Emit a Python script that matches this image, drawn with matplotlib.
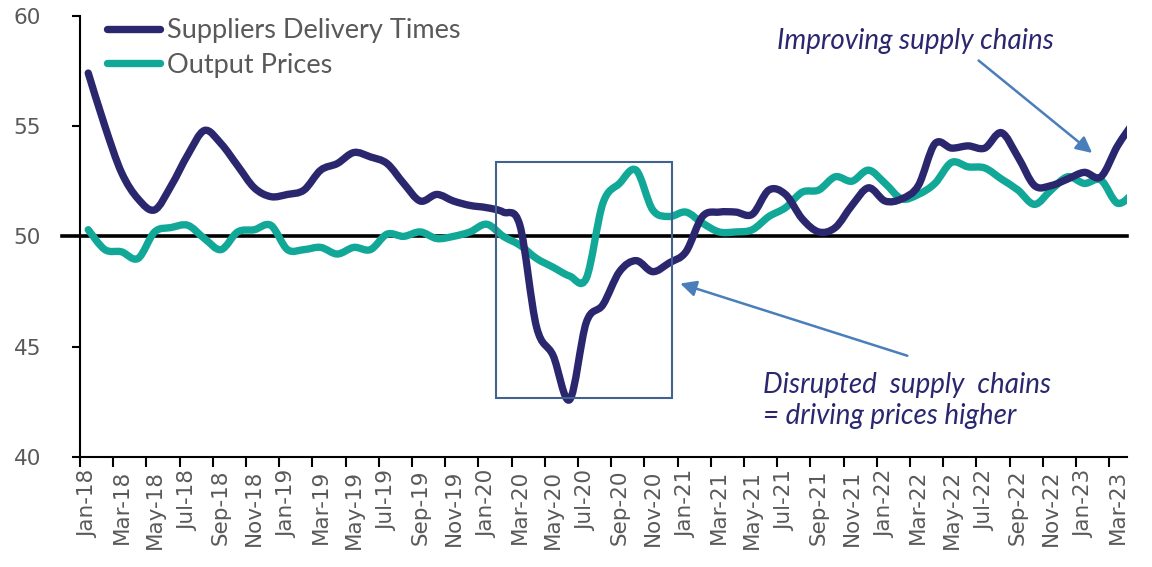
import matplotlib
matplotlib.use("Agg")
import matplotlib.pyplot as plt
from matplotlib.patches import Rectangle, PathPatch
from matplotlib.path import Path
from matplotlib.lines import Line2D

plt.rcParams['font.family'] = ['Lato', 'DejaVu Sans']

months = ['Jan', 'Feb', 'Mar', 'Apr', 'May', 'Jun',
          'Jul', 'Aug', 'Sep', 'Oct', 'Nov', 'Dec']
dates = [f'{m}-{y}' for y in range(18, 24) for m in months][:64]

# Suppliers Delivery Times (Jan-18 .. Apr-23)
delivery = [57.4, 55.0, 52.9, 51.7, 51.2, 52.3, 53.7, 54.8, 54.2, 53.2, 52.2, 51.8,
            51.9, 52.1, 53.0, 53.3, 53.8, 53.6, 53.3, 52.4, 51.6, 51.9, 51.6, 51.4,
            51.3, 51.1, 50.5, 45.9, 44.6, 42.6, 46.1, 46.9, 48.4, 48.9, 48.4, 48.8,
            49.3, 50.9, 51.1, 51.1, 51.0, 52.1, 51.9, 50.8, 50.2, 50.4, 51.4, 52.2,
            51.6, 51.7, 52.3, 54.2, 54.0, 54.1, 54.0, 54.7, 53.6, 52.3, 52.3, 52.6,
            52.9, 52.7, 54.1, 55.2]

# Output Prices
prices = [50.3, 49.4, 49.3, 49.0, 50.2, 50.4, 50.5, 49.9, 49.4, 50.2, 50.3, 50.5,
          49.4, 49.4, 49.5, 49.2, 49.5, 49.4, 50.1, 50.0, 50.2, 49.9, 50.0, 50.2,
          50.55, 50.0, 49.6, 49.0, 48.6, 48.2, 48.1, 51.5, 52.4, 53.0, 51.2, 50.9,
          51.1, 50.6, 50.2, 50.2, 50.3, 50.9, 51.3, 52.0, 52.1, 52.7, 52.5, 53.0,
          52.4, 51.7, 51.9, 52.4, 53.35, 53.15, 53.1, 52.6, 52.1, 51.45, 52.1, 52.7,
          52.4, 52.55, 51.5, 52.0]

navy = '#2A276E'
teal = '#12A898'
grey = '#595959'


def smooth_path(ys):
    # Excel style smoothed line: bezier segments through every data point
    pts = list(enumerate(ys))
    verts = [pts[0]]
    codes = [Path.MOVETO]
    n = len(pts)
    for i in range(n - 1):
        p0 = pts[max(i - 1, 0)]
        p1 = pts[i]
        p2 = pts[i + 1]
        p3 = pts[min(i + 2, n - 1)]
        c1 = (p1[0] + (p2[0] - p0[0]) / 6, p1[1] + (p2[1] - p0[1]) / 6)
        c2 = (p2[0] - (p3[0] - p1[0]) / 6, p2[1] - (p3[1] - p1[1]) / 6)
        verts += [c1, c2, p2]
        codes += [Path.CURVE4] * 3
    return Path(verts, codes)


fig = plt.figure(figsize=(11.52, 5.67), dpi=100)
ax = fig.add_axes([0.0694, 0.194, 0.9089, 0.7783])

for ys, c, z in [(delivery, navy, 4), (prices, teal, 3)]:
    ax.add_patch(PathPatch(smooth_path(ys), facecolor='none', edgecolor=c,
                           lw=5.3, joinstyle='round', capstyle='round',
                           zorder=z))

# 50 line, sticks out a bit to the left of the axis
ax.plot([-0.017, 1], [50, 50], color='black', lw=2.6,
        transform=ax.get_yaxis_transform(), clip_on=False, zorder=2)

ax.set_xlim(-0.5, 62.57)
ax.set_ylim(40, 60)

# ticks on category boundaries, labels on category centres
ax.set_xticks([i - 0.5 for i in range(0, 63, 2)])
ax.set_xticklabels([])
ax.set_xticks(list(range(0, 63, 2)), minor=True)
ax.set_xticklabels(dates[0:63:2], minor=True, rotation=90,
                   fontsize=15.5, color=grey, family='DejaVu Sans')
ax.tick_params(axis='x', which='major', length=7, width=1.5, direction='out')
ax.tick_params(axis='x', which='minor', length=0, pad=9)

ax.set_yticks([40, 45, 50, 55, 60])
ax.set_yticklabels(['40', '45', '50', '55', '60'], family='DejaVu Sans')
ax.tick_params(axis='y', length=6, width=1.5, labelsize=15.5,
               labelcolor=grey, pad=22)

for s in ['top', 'right']:
    ax.spines[s].set_visible(False)
for s in ['left', 'bottom']:
    ax.spines[s].set_linewidth(1.5)

# box round the Covid dip
ax.add_patch(Rectangle((24.56, 42.68), 10.6, 10.68, fill=False,
                       edgecolor='#41628E', lw=1.5, zorder=5))

arrow = dict(arrowstyle='-|>', color='#4A7EBB', lw=1.8, mutation_scale=24)
ax.annotate('', xy=(35.5, 47.9), xytext=(49.5, 44.55), arrowprops=arrow)
ax.annotate('', xy=(60.6, 53.7), xytext=(53.5, 58.05), arrowprops=arrow)

ax.text(41.49, 58.85, 'Improving supply chains', style='italic',
        color=navy, fontsize=20, ha='left', va='center')
ax.text(40.64, 43.85, 'Disrupted  supply  chains\n= driving prices higher',
        style='italic', color=navy, fontsize=20, ha='left', va='top',
        linespacing=1.23)

handles = [Line2D([], [], color=navy, lw=5.3, solid_capstyle='round'),
           Line2D([], [], color=teal, lw=5.3, solid_capstyle='round')]
leg = ax.legend(handles, ['Suppliers Delivery Times', 'Output Prices'],
                loc='upper left', bbox_to_anchor=(0.0929, 0.968),
                bbox_transform=fig.transFigure, frameon=False, fontsize=19.5,
                handlelength=1.96, handletextpad=0.25, labelspacing=0.36,
                borderpad=0, borderaxespad=0)
for t in leg.get_texts():
    t.set_color(grey)

fig.savefig('out.png', dpi=100)
